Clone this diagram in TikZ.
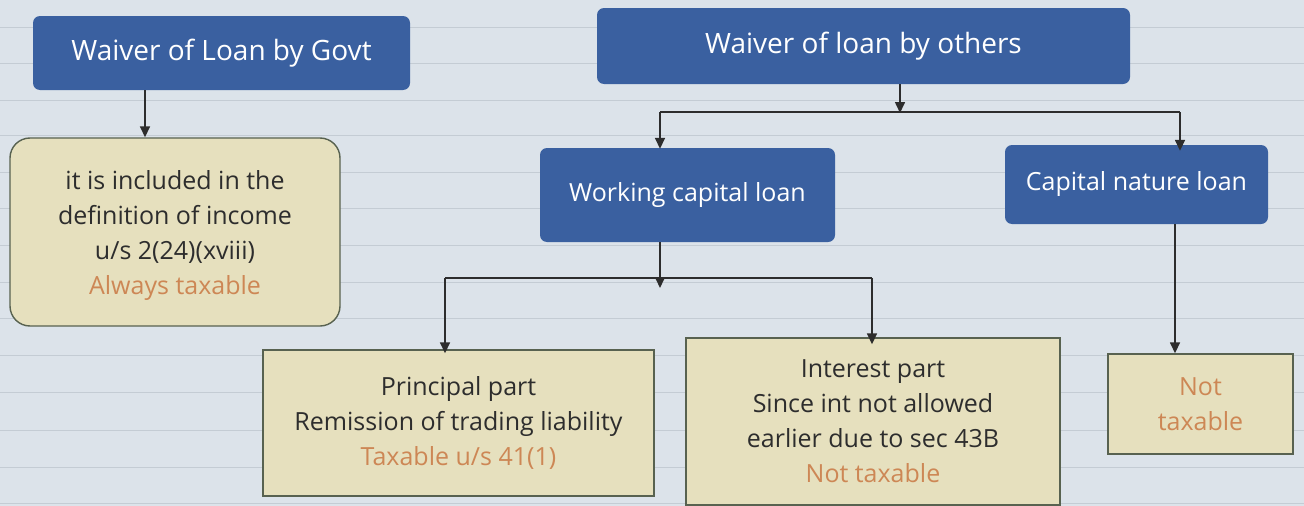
\documentclass[tikz,border=0pt]{standalone}
\usepackage{fontspec}
\setmainfont{Open Sans}
\usetikzlibrary{arrows.meta}
\definecolor{bg}{RGB}{220,227,234}
\definecolor{ruling}{RGB}{196,204,212}
\definecolor{blue1}{RGB}{58,96,160}
\definecolor{cream}{RGB}{230,224,190}
\definecolor{edge}{RGB}{88,98,80}
\definecolor{orng}{RGB}{205,135,85}
\definecolor{ink}{RGB}{45,45,45}
\tikzset{
  head/.style={draw=none, fill=blue1, rounded corners=7pt, text=white, align=center,
    font=\fontsize{28}{32}\selectfont, inner sep=0pt},
  subhead/.style={head, font=\fontsize{25}{30}\selectfont},
  resbox/.style={draw=edge, line width=1.4pt, fill=cream, text=ink, align=center,
    font=\fontsize{25}{35}\selectfont, inner sep=0pt},
  conn/.style={draw=ink, line width=1.6pt},
  arr/.style={conn, -{Triangle[length=11pt,width=10pt]}},
}
\begin{document}
\begin{tikzpicture}[x=1pt,y=-1pt]
\useasboundingbox (0,0) rectangle (1304,506);
\fill[bg] (0,0) rectangle (1304,506);
\foreach \yy in {27,63,100,135,172,208,245,282,318,355,392,430,467,503}
  \draw[ruling, line width=1pt] (0,\yy) -- (1304,\yy);

% headers
\node[head, minimum width=377pt, minimum height=74pt] (govt) at (221.5,53) {Waiver of Loan by Govt};
\node[head, minimum width=533pt, minimum height=76pt] (others) at (863.5,46) {Waiver of loan by others};
\node[subhead, minimum width=295pt, minimum height=94pt] (wcl) at (687.5,195) {Working capital loan};
\node[subhead, minimum width=263pt, minimum height=79pt] (cnl) at (1136.5,184.5) {Capital nature loan};

% results
\node[resbox, rounded corners=20pt, minimum width=330pt, minimum height=188pt] (govres) at (175,232) {};
\node[align=center, text=ink, font=\fontsize{25}{35}\selectfont, inner sep=0pt] (govtxt) at (175,236)
  {it is included in the\\definition of income\\u/s 2(24)(xviii)\\\textcolor{orng}{Always taxable}};
\node[resbox, minimum width=391pt, minimum height=146pt] (princ) at (458.5,423)
  {Principal part\\Remission of trading liability\\\textcolor{orng}{Taxable u/s 41(1)}};
\node[resbox, minimum width=374pt, minimum height=167pt] (inter) at (873,421.5)
  {Interest part\\Since int not allowed\\earlier due to sec 43B\\\textcolor{orng}{Not taxable}};
\node[resbox, minimum width=185pt, minimum height=100pt] (notax) at (1200.5,404)
  {\textcolor{orng}{Not}\\\textcolor{orng}{taxable}};

% connectors
\draw[arr] (govt.south -| govres.north) ++(-30,0) coordinate (g1) -- (g1 |- govres.north);

\coordinate (ojoin) at (900,112);
\draw[arr] (others.south -| ojoin) -- ([yshift=-1pt]ojoin);
\draw[conn] (ojoin -| 660,0) -- (ojoin -| 1180,0);
\draw[arr] (ojoin -| 660,0) -- ([yshift=-1pt]wcl.north -| 660,0);
\draw[arr] (ojoin -| 1180,0) -- ([yshift=-6pt]cnl.north -| 1180,0);

\coordinate (wjoin) at (660,278);
\draw[arr] (wcl.south -| wjoin) -- ([yshift=-10pt]wjoin);
\draw[conn] (wjoin -| 445,0) -- (wjoin -| 872,0);
\draw[arr] (wjoin -| 445,0) -- ([yshift=-4pt]princ.north -| 445,0);
\draw[arr] (wjoin -| 872,0) -- ([yshift=-7pt]inter.north -| 872,0);

\draw[arr] (cnl.south -| 1175,0) -- (notax.north -| 1175,0);
\end{tikzpicture}
\end{document}
